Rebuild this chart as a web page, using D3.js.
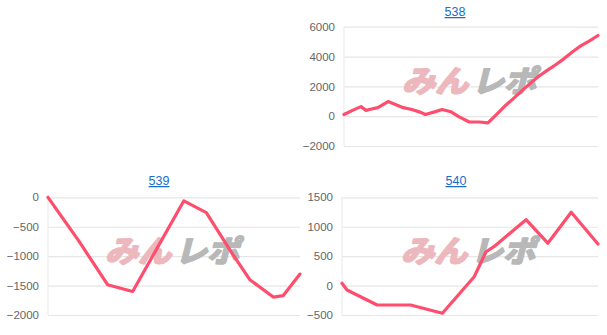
<!DOCTYPE html>
<html>
<head>
<meta charset="utf-8">
<script src="https://cdn.jsdelivr.net/npm/d3@7"></script>
<style>
  html, body { margin: 0; padding: 0; background: #fff; }
  svg { display: block; font-family: "Liberation Sans", Arial, sans-serif; }
</style>
</head>
<body>
<svg id="chart" width="607" height="335"></svg>
<script>
// machine numbers
const titles = ["538", "539", "540"];

// games played / coin difference
const games538 = [0, 250, 500, 650, 750, 1000, 1300, 1500, 1750, 2000, 2250, 2400, 2650, 2900, 3150, 3400,
                  3700, 4000, 4250, 4500, 4750, 5000, 5250, 5500, 5750, 6000, 6250, 6500, 6750, 7000, 7250, 7500];
const diff538  = [110, 390, 640, 390, 450, 570, 980, 800, 570, 450, 270, 110, 270, 450, 300, -50,
                  -390, -390, -450, 110, 680, 1180, 1700, 2200, 2680, 3070, 3450, 3860, 4320, 4730, 5050, 5410];

const games539 = [0, 930, 1780, 2530, 4060, 4730, 5530, 6030, 6730, 7030, 7530];
const diff539  = [0, -750, -1485, -1600, -60, -260, -980, -1400, -1695, -1670, -1305];

const games540 = [0, 150, 1050, 2050, 3000, 3950, 4300, 4550, 5500, 6150, 6850, 7650];
const diff540  = [40, -75, -330, -330, -470, 150, 570, 665, 1120, 720, 1245, 705];

const ticks538 = [-2000, 0, 2000, 4000, 6000];
const ticks539 = [-2000, -1500, -1000, -500, 0];
const ticks540 = [-500, 0, 500, 1000, 1500];

const series = [
  { title: titles[0], games: games538, diff: diff538, ticks: ticks538 },
  { title: titles[1], games: games539, diff: diff539, ticks: ticks539 },
  { title: titles[2], games: games540, diff: diff540, ticks: ticks540 }
];

// where each small chart sits on the page
const panels = [
  { x0: 344, x1: 598, y0: 26.7, y1: 146, tx: 455, ty: 16 },
  { x0: 48,  x1: 300, y0: 197.3, y1: 315, tx: 159, ty: 185 },
  { x0: 342, x1: 598, y0: 197.3, y1: 315, tx: 456, ty: 185 }
];

const svg = d3.select("#chart");

series.forEach(function(s, i) {
  const p = panels[i];
  const x = d3.scaleLinear()
    .domain([0, d3.max(s.games)])
    .range([p.x0, p.x1]);
  const y = d3.scaleLinear()
    .domain(d3.extent(s.ticks))
    .range([p.y1, p.y0]);

  const g = svg.append("g");

  // title (link style)
  g.append("text")
    .attr("x", p.tx)
    .attr("y", p.ty)
    .attr("text-anchor", "middle")
    .attr("font-size", 12.5)
    .attr("fill", "#1a6dcc")
    .attr("text-decoration", "underline")
    .text(s.title);

  // grid + y labels
  const yAxis = d3.axisLeft(y)
    .tickValues(s.ticks)
    .tickSize(-(p.x1 - p.x0))
    .tickPadding(9)
    .tickFormat(d3.format("d"));

  const ax = g.append("g")
    .attr("transform", "translate(" + p.x0 + ",0)")
    .call(yAxis);
  ax.select(".domain").remove();
  ax.selectAll(".tick line")
    .attr("stroke", "#e6e6e6")
    .attr("stroke-width", 1.2);
  ax.selectAll(".tick text")
    .attr("fill", "#666")
    .attr("font-size", 11.5)
    .attr("font-family", "Liberation Sans, Arial, sans-serif");

  // left vertical line
  g.append("line")
    .attr("x1", p.x0).attr("x2", p.x0)
    .attr("y1", p.y0).attr("y2", p.y1)
    .attr("stroke", "#ececec")
    .attr("stroke-width", 1.2);

  // watermark
  const cx = (p.x0 + p.x1) / 2, cy = (p.y0 + p.y1) / 2 - 5;
  const wm = g.append("g")
    .attr("transform", "translate(" + cx + "," + cy + ") skewX(-14)")
    .attr("font-family", "Noto Sans CJK JP")
    .attr("font-weight", "bold")
    .attr("font-size", 30)
    .attr("stroke-width", 2.2)
    .attr("stroke-linejoin", "round");
  wm.append("text")
    .attr("x", -66).attr("y", 11)
    .attr("textLength", 66)
    .attr("lengthAdjust", "spacingAndGlyphs")
    .attr("fill", "#ecb8bd")
    .attr("stroke", "#ecb8bd")
    .text("みん");
  wm.append("text")
    .attr("x", 4).attr("y", 11)
    .attr("textLength", 64)
    .attr("lengthAdjust", "spacingAndGlyphs")
    .attr("fill", "#b8b8b8")
    .attr("stroke", "#b8b8b8")
    .text("レポ");

  // line
  const line = d3.line()
    .x(function(d, j) { return x(s.games[j]); })
    .y(function(d) { return y(d); });

  g.append("path")
    .datum(s.diff)
    .attr("d", line)
    .attr("fill", "none")
    .attr("stroke", "#ff4d6d")
    .attr("stroke-width", 3.2)
    .attr("stroke-linejoin", "round")
    .attr("stroke-linecap", "round");
});
</script>
</body>
</html>
